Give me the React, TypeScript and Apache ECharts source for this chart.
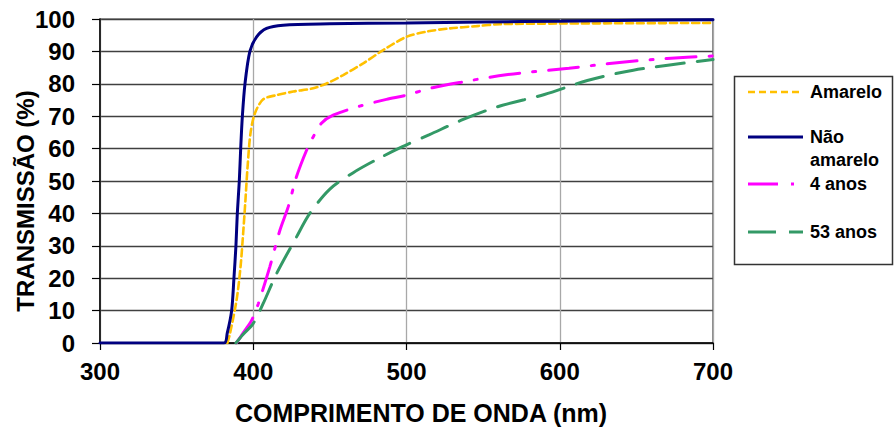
import React, { useEffect, useRef } from "react";
import * as echarts from "echarts";

// Wavelength (nm) / transmission (%)
const amareloX = [383.1, 384.8, 389.1, 391.7, 393.4, 394.9, 396.3, 398.2, 401.1, 406.5, 415.2, 426.1, 439.1, 447.8, 458.7, 471.7, 484.8, 500, 513.1, 528.3, 545.7, 560.9, 600, 650, 700];
const amareloY = [0, 2.9, 13.2, 23.5, 33.8, 44.1, 54.4, 64.7, 70.9, 75.2, 76.5, 77.6, 78.6, 80.1, 82.7, 86.3, 90.4, 94.5, 96.1, 97.1, 97.8, 98.4, 98.6, 98.7, 98.8];

const naoAmareloX = [300, 380.9, 383, 385.9, 387.4, 388.7, 389.6, 390.9, 391.8, 392.9, 394.6, 397.8, 402.2, 408.7, 419.5, 450, 500, 550, 600, 650, 700];
const naoAmareloY = [0, 0, 3, 10, 20, 30, 40, 50, 60, 70, 80, 90, 94.5, 97.1, 98.1, 98.5, 98.8, 99.1, 99.3, 99.6, 99.8];

const quatroAnosX = [389, 394, 398.9, 403.2, 410.8, 417.4, 422.8, 428.2, 434.8, 439.1, 444.5, 452.1, 469.5, 486.9, 500, 517, 537, 565, 606, 639, 670, 700];
const quatroAnosY = [0, 3.5, 7, 12, 23.5, 34.8, 42, 51.3, 59.5, 63.6, 67.8, 70.3, 73.1, 75.2, 76.5, 78.8, 80.6, 82.8, 84.8, 86.6, 87.8, 88.6];

const cinquentaTresX = [388.7, 393, 399.9, 406.5, 415.2, 428.2, 436.9, 450, 465, 480, 497, 515, 537, 560, 590, 618, 648, 700];
const cinquentaTresY = [0, 2.5, 6, 12.2, 21.4, 32.7, 40, 47.5, 52.5, 56.5, 60.5, 64.3, 69, 73, 76.7, 81, 84.2, 87.5];

const xTicks = [300, 400, 500, 600, 700];
const yTicks = [0, 10, 20, 30, 40, 50, 60, 70, 80, 90, 100];

const seriesNames = ["Amarelo", "Não\namarelo", "4 anos", "53 anos"];
const xTitle = "COMPRIMENTO DE ONDA (nm)";
const yTitle = "TRANSMISSÃO (%)";

const FONT = "'Liberation Sans', Arial, sans-serif";

function zip(xs: number[], ys: number[]) {
  return xs.map((x, i) => [x, ys[i]]);
}

export default function App() {
  const ref = useRef<HTMLDivElement>(null);
  useEffect(() => {
    if (!ref.current) return;
    const chart = echarts.init(ref.current, null, { renderer: "svg" });
    const styles = [
      { color: "#FFC000", width: 2.6, dash: [7, 4] as any },
      { color: "#000080", width: 3, dash: "solid" as any },
      { color: "#FF00FF", width: 3, dash: [30, 13, 3, 13] as any },
      { color: "#339966", width: 3, dash: [28, 13] as any },
    ];
    const datas = [
      zip(amareloX, amareloY),
      zip(naoAmareloX, naoAmareloY),
      zip(quatroAnosX, quatroAnosY),
      zip(cinquentaTresX, cinquentaTresY),
    ];
    const legendYs = [92, 137, 184, 232];
    const legendGraphics: any[] = [
      {
        type: "rect",
        shape: { x: 734.5, y: 76.5, width: 158, height: 188 },
        style: { fill: "#fff", stroke: "#333", lineWidth: 1.5 },
        z: 10,
      },
    ];
    seriesNames.forEach((name, i) => {
      legendGraphics.push({
        type: "line",
        shape: { x1: 748, y1: legendYs[i], x2: 803, y2: legendYs[i] },
        style: {
          stroke: styles[i].color,
          lineWidth: styles[i].width,
          lineDash: styles[i].dash === "solid" ? null : styles[i].dash,
        },
        z: 11,
      });
      legendGraphics.push({
        type: "text",
        x: 810,
        y: legendYs[i],
        style: {
          text: name,
          font: `bold 18px ${FONT}`,
          fill: "#000",
          textAlign: "left",
          textVerticalAlign: "middle",
          lineHeight: 23,
        },
        z: 11,
      });
    });
    // "Não\namarelo" should have its first line at the symbol: shift down
    legendGraphics[4].y = legendYs[1] + 11.5;

    chart.setOption({
      animation: false,
      backgroundColor: "#fff",
      grid: {
        left: 100,
        right: 181,
        top: 19,
        bottom: 85,
        show: true,
        borderColor: "#404040",
        borderWidth: 1.2,
      },
      xAxis: {
        type: "value",
        min: 300,
        max: 700,
        interval: 100,
        axisLine: { show: true, lineStyle: { color: "#000", width: 1.5 } },
        axisTick: { show: true, inside: false, length: 7, lineStyle: { color: "#000", width: 1.2 } },
        axisLabel: {
          margin: 16,
          color: "#000",
          fontSize: 24,
          fontWeight: "bold",
          fontFamily: FONT,
          formatter: (v: number) => (xTicks.includes(v) ? String(v) : ""),
        },
        splitLine: { show: true, lineStyle: { color: "#a8a8a8", width: 1.3 } },
      },
      yAxis: {
        type: "value",
        min: 0,
        max: 100,
        interval: 10,
        axisLine: { show: true, lineStyle: { color: "#000", width: 1.5 } },
        axisTick: { show: true, inside: false, length: 8, lineStyle: { color: "#000", width: 1.2 } },
        axisLabel: {
          margin: 25,
          color: "#000",
          fontSize: 24,
          fontWeight: "bold",
          fontFamily: FONT,
          formatter: (v: number) => (yTicks.includes(v) ? String(v) : ""),
        },
        splitLine: { show: true, lineStyle: { color: "#404040", width: 1.3 } },
      },
      series: datas.map((d, i) => ({
        type: "line",
        name: seriesNames[i],
        data: d,
        showSymbol: false,
        symbol: "none",
        smooth: 0.3,
        lineStyle: {
          color: styles[i].color,
          width: styles[i].width,
          type: styles[i].dash,
          cap: "round",
        },
        z: 2 + i,
      })),
      graphic: [
        {
          type: "text",
          x: 25,
          y: 201,
          rotation: Math.PI / 2,
          style: {
            text: yTitle,
            font: `bold 24px ${FONT}`,
            fill: "#000",
            textAlign: "center",
            textVerticalAlign: "middle",
          },
        },
        {
          type: "text",
          x: 421,
          y: 413,
          style: {
            text: xTitle,
            font: `bold 25px ${FONT}`,
            fill: "#000",
            textAlign: "center",
            textVerticalAlign: "middle",
          },
        },
        ...legendGraphics,
      ],
    });
    return () => chart.dispose();
  }, []);
  return (
    <div
      ref={ref}
      style={{ position: "fixed", left: 0, top: 0, width: 894, height: 428, background: "#fff" }}
    />
  );
}
